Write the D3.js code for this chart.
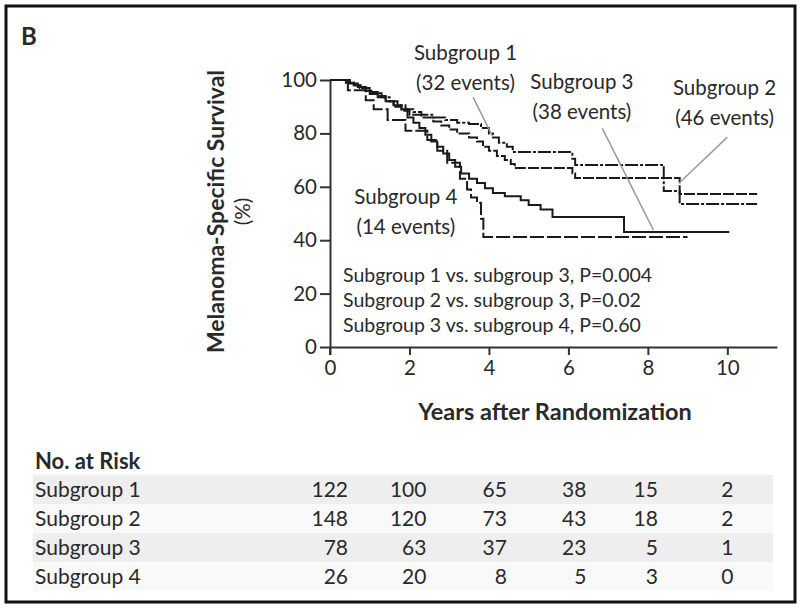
<!DOCTYPE html>
<html>
<head>
<meta charset="utf-8">
<script src="https://cdn.jsdelivr.net/npm/d3@7"></script>
<style>
  html, body { margin: 0; padding: 0; background: #fff; }
  svg { display: block; }
  text { font-family: "Lato", "Open Sans", sans-serif; fill: #2a2a2a; }
</style>
</head>
<body>
<svg id="chart" width="800" height="609"></svg>
<script>
// ---------------- data ----------------
const panelLabel = "B";
const subgroups = ["Subgroup 1", "Subgroup 2", "Subgroup 3", "Subgroup 4"];
const events = [32, 46, 38, 14];

// Kaplan-Meier step points (years, % surviving after the step)
const times1 = [0, 0.45, 0.6, 0.75, 0.9, 1.1, 1.3, 1.5, 1.7, 1.9, 2.1, 2.3, 2.6, 2.9, 3.2, 3.5, 3.8, 4.0, 4.1, 4.25, 4.45, 4.6, 6.1, 6.17, 8.4, 8.8, 10.75];
const surv1  = [100, 99, 98, 97, 96, 95, 93.5, 92, 90.5, 89, 88, 87, 86, 85, 84, 83.5, 82, 80, 78.5, 76.5, 75, 73, 70.5, 68.2, 58.4, 53.6, 53.6];

const times2 = [0, 0.4, 0.6, 0.8, 1.0, 1.2, 1.4, 1.6, 1.8, 2.0, 2.3, 2.6, 2.8, 3.0, 3.2, 3.5, 3.7, 3.85, 4.0, 4.2, 4.4, 4.55, 4.65, 6.1, 6.17, 8.8, 10.75];
const surv2  = [100, 99, 98, 97, 95.5, 94, 92, 90, 88.5, 87, 86, 84.5, 83, 81.5, 80, 78.5, 77, 75, 73.5, 71.5, 70, 68.5, 67, 65, 63.3, 57.3, 57.3];

const times3 = [0, 0.5, 0.7, 0.9, 1.0, 1.2, 1.4, 1.6, 1.8, 1.95, 2.1, 2.25, 2.4, 2.55, 2.7, 2.85, 3.0, 3.15, 3.3, 3.5, 3.7, 3.9, 4.1, 4.4, 4.8, 5.0, 5.3, 5.6, 7.4, 10.05];
const surv3  = [100, 98.7, 97.4, 96, 94.8, 93.5, 92, 90.5, 89, 86, 84, 82, 79.5, 77, 75, 72.5, 70, 67.5, 65, 63, 61.4, 59.5, 57.7, 56.5, 55, 53.2, 51.5, 48.7, 43.1, 43.1];

const times4 = [0, 0.45, 0.9, 1.1, 1.45, 1.9, 2.45, 2.7, 2.95, 3.27, 3.45, 3.55, 3.7, 3.8, 3.86, 9.0];
const surv4  = [100, 96.2, 92.4, 89, 85, 81, 77.5, 73.5, 69, 63, 59, 56, 54, 48, 41.2, 41.2];

const xTicks = [0, 2, 4, 6, 8, 10];
const yTicks = [0, 20, 40, 60, 80, 100];

const riskTimes = [0, 2, 4, 6, 8, 10];
const risk1 = [122, 100, 65, 38, 15, 2];
const risk2 = [148, 120, 73, 43, 18, 2];
const risk3 = [78, 63, 37, 23, 5, 1];
const risk4 = [26, 20, 8, 5, 3, 0];

const pValueLines = [
  "Subgroup 1 vs. subgroup 3, P=0.004",
  "Subgroup 2 vs. subgroup 3, P=0.02",
  "Subgroup 3 vs. subgroup 4, P=0.60"
];

// ---------------- layout ----------------
const svg = d3.select("#chart");
const fs = 20.5;

const x = d3.scaleLinear().domain([0, 11.25]).range([330, 777]);
const y = d3.scaleLinear().domain([0, 100]).range([347, 80]);

// outer frame
svg.append("rect").attr("x", 6).attr("y", 6).attr("width", 789).attr("height", 596)
  .attr("fill", "none").attr("stroke", "#111").attr("stroke-width", 3);

svg.append("text").attr("x", 21).attr("y", 45).text(panelLabel)
  .style("font-weight", 700).style("font-size", "24px");

// axes
const xAxis = d3.axisBottom(x).tickValues(xTicks).tickSize(8).tickSizeOuter(0).tickPadding(5);
const gx = svg.append("g").attr("transform", `translate(0,${y(0)})`).call(xAxis);
const yAxis = d3.axisLeft(y).tickValues(yTicks).tickSize(10).tickSizeOuter(0).tickPadding(3);
const gy = svg.append("g").attr("transform", `translate(${x(0)},0)`).call(yAxis);
[gx, gy].forEach(g => {
  g.select(".domain").attr("stroke", "#333").attr("stroke-width", 2);
  g.selectAll(".tick line").attr("stroke", "#333").attr("stroke-width", 2);
  g.selectAll(".tick text").style("font-size", fs + "px").style("font-family", "Lato, sans-serif").attr("fill", "#2a2a2a");
});
// extend y-axis slightly below x-axis like the reference
svg.append("line").attr("x1", x(0)).attr("x2", x(0)).attr("y1", y(0)).attr("y2", y(0) + 8)
  .attr("stroke", "#333").attr("stroke-width", 2);

// axis titles
svg.append("text").attr("x", 555).attr("y", 420).attr("text-anchor", "middle")
  .style("font-weight", 700).style("font-size", "23.5px").text("Years after Randomization");

const yl = svg.append("g").attr("transform", `translate(224,${(y(0) + y(100)) / 2 - 2}) rotate(-90)`);
yl.append("text").attr("x", 0).attr("y", 0).attr("text-anchor", "middle")
  .style("font-weight", 700).style("font-size", "23px").text("Melanoma-Specific Survival");
yl.append("text").attr("x", 0).attr("y", 26).attr("text-anchor", "middle")
  .style("font-size", fs + "px").text("(%)");

// curves
const series = [
  { t: times1, s: surv1, dash: "13,2,3,2" },
  { t: times2, s: surv2, dash: "11,2" },
  { t: times3, s: surv3, dash: null },
  { t: times4, s: surv4, dash: "14,3" }
];
const line = d3.line().x(d => x(d[0])).y(d => y(d[1])).curve(d3.curveStepAfter);
series.forEach(se => {
  const pts = se.t.map((t, i) => [t, se.s[i]]);
  svg.append("path").attr("d", line(pts)).attr("fill", "none")
    .attr("stroke", "#1a1a1a").attr("stroke-width", 2)
    .attr("stroke-dasharray", se.dash);
});

// leader lines (data coordinates)
const leaders = [
  [[3.6, 93.6], [4.1, 78.6]],
  [[6.85, 82], [8.14, 43.8]],
  [[10.0, 78.6], [8.79, 61.4]]
];
leaders.forEach(l => {
  svg.append("line").attr("x1", x(l[0][0])).attr("y1", y(l[0][1]))
    .attr("x2", x(l[1][0])).attr("y2", y(l[1][1]))
    .attr("stroke", "#9a9a9a").attr("stroke-width", 1.5);
});

// curve labels: [center year, y% of first line baseline]
const labelPos = [[3.41, 107.5], [9.93, 94.5], [6.34, 96.7], [1.91, 53.6]];
labelPos.forEach((p, i) => {
  const t = svg.append("text").attr("x", x(p[0])).attr("y", y(p[1])).attr("text-anchor", "middle")
    .style("font-size", fs + "px");
  t.append("tspan").attr("x", x(p[0])).attr("dy", 0).text(subgroups[i]);
  t.append("tspan").attr("x", x(p[0])).attr("dy", 30).text(`(${events[i]} events)`);
});

// p-values
pValueLines.forEach((s, i) => {
  svg.append("text").attr("x", 343).attr("y", 282 + i * 25).style("font-size", "19.5px").text(s);
});

// ---------------- risk table ----------------
svg.append("text").attr("x", 35).attr("y", 469).style("font-weight", 700).style("font-size", "22px").text("No. at Risk");
const risks = [risk1, risk2, risk3, risk4];
const rowTop = 475, rowH = 29;
const bgCols = ["#eeeeee", "#f9f9f9", "#eeeeee", "#f9f9f9"];
const colOffset = [18, 17, 18, 18, 10, 6];
risks.forEach((r, i) => {
  svg.append("rect").attr("x", 33).attr("y", rowTop + i * rowH).attr("width", 740).attr("height", rowH)
    .attr("fill", bgCols[i]);
  svg.append("text").attr("x", 35).attr("y", rowTop + i * rowH + 22).style("font-size", "21px").text(subgroups[i]);
  r.forEach((v, j) => {
    svg.append("text").attr("x", x(riskTimes[j]) + colOffset[j]).attr("y", rowTop + i * rowH + 22)
      .attr("text-anchor", "end").style("font-size", "21px").text(v);
  });
});
</script>
</body>
</html>
